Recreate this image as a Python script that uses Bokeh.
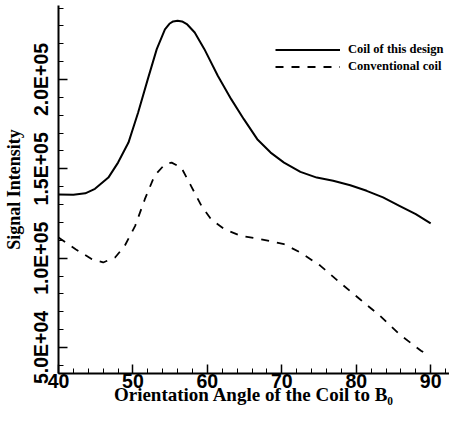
import math
from bokeh.plotting import figure
from bokeh.models import FixedTicker, Range1d, Legend, LegendItem
from bokeh.embed import file_html
from bokeh.resources import INLINE

# ---- data ----
angle_design = [40.0, 42.0, 43.6, 44.9, 46.7, 48.0, 49.4, 50.7, 52.0, 53.2, 54.3, 54.9,
                55.4, 56.0, 56.6, 57.3, 58.3, 59.6, 61.4, 63.2, 64.9, 66.7, 68.5, 70.3,
                72.5, 74.7, 76.9, 79.2, 81.4, 83.6, 85.8, 88.0, 90.0]
signal_design = [135600, 135500, 136300, 138800, 145100, 153500, 164700, 181500, 200200,
                 217000, 228100, 231200, 232500, 232900, 232500, 230800, 226300, 217000,
                 202100, 189000, 177800, 166600, 159100, 153500, 148300, 145100, 143300,
                 140800, 137700, 134000, 129300, 124600, 119500]

angle_conv = [40.0, 42.3, 44.5, 46.0, 47.6, 48.9, 50.3, 51.6, 52.9, 54.3, 55.2, 56.5,
              57.8, 59.2, 60.5, 62.3, 64.5, 67.2, 70.3, 72.5, 75.2, 77.8, 80.5, 83.2,
              85.8, 88.7, 89.6]
signal_conv = [111600, 105000, 99400, 97600, 100400, 106900, 118100, 133000, 146100,
               152600, 153500, 150700, 140500, 129300, 121800, 116200, 112500, 110600,
               107800, 103200, 95700, 86400, 77000, 67700, 57400, 48200, 45800]

y_ticks = [50000, 100000, 150000, 200000]
y_tick_labels = ["5.0E+04", "1.0E+05", "1.5E+05", "2.0E+05"]
x_ticks = [40, 50, 60, 70, 80, 90]

series_names = ["Coil of this design", "Conventional coil"]
x_title = "Orientation Angle of the Coil to B₀"
y_title = "Signal Intensity"

p = figure(width=449, height=409, output_backend="svg", toolbar_location=None,
           x_range=Range1d(40, 92.53), y_range=Range1d(35450, 241420),
           min_border_left=55, min_border_right=0, min_border_top=5, min_border_bottom=36)

p.outline_line_color = None
p.xgrid.visible = False
p.ygrid.visible = False
p.background_fill_color = "white"
p.border_fill_color = "white"

r1 = p.line(angle_design, signal_design, line_color="black", line_width=2,
            line_join="round")
r2 = p.line(angle_conv, signal_conv, line_color="black", line_width=1.8, line_dash="8 8",
            line_join="round")

# x axis
xa = p.xaxis[0]
xa.ticker = FixedTicker(ticks=x_ticks, minor_ticks=list(range(40, 93, 2)))
xa.axis_line_width = 2
xa.axis_line_color = "black"
xa.major_tick_in = 9
xa.major_tick_out = 0
xa.minor_tick_in = 5
xa.minor_tick_out = 0
xa.major_tick_line_width = 1.5
xa.major_label_text_font = "Liberation Sans"
xa.major_label_text_font_style = "bold"
xa.major_label_text_font_size = "19.5px"
xa.major_label_text_color = "black"
xa.major_label_standoff = 0
xa.axis_label = x_title
xa.axis_label_text_font = "Liberation Serif"
xa.axis_label_text_font_style = "bold"
xa.axis_label_text_font_size = "19px"
xa.axis_label_text_color = "black"
xa.axis_label_standoff = -7

# y axis
ya = p.yaxis[0]
ya.ticker = FixedTicker(ticks=y_ticks, minor_ticks=list(range(40000, 241000, 10000)))
ya.major_label_overrides = {t: l for t, l in zip(y_ticks, y_tick_labels)}
ya.axis_line_width = 2
ya.axis_line_color = "black"
ya.major_tick_in = 9
ya.major_tick_out = 0
ya.minor_tick_in = 5
ya.minor_tick_out = 0
ya.major_tick_line_width = 1.5
ya.major_label_orientation = "parallel"
ya.major_label_text_font = "Liberation Sans"
ya.major_label_text_font_style = "bold"
ya.major_label_text_font_size = "19.5px"
ya.major_label_text_color = "black"
ya.major_label_standoff = 6
ya.axis_label = y_title
ya.axis_label_text_font = "Liberation Serif"
ya.axis_label_text_font_style = "bold"
ya.axis_label_text_font_size = "18px"
ya.axis_label_text_color = "black"
ya.axis_label_standoff = 4

legend = Legend(items=[LegendItem(label=series_names[0], renderers=[r1]),
                       LegendItem(label=series_names[1], renderers=[r2])],
                location=(217, 299), orientation="vertical")
legend.padding = 0
legend.margin = 0
legend.spacing = 2
legend.glyph_width = 65
legend.glyph_height = 15
legend.label_height = 15
legend.label_standoff = 8
legend.label_text_font = "Liberation Serif"
legend.label_text_font_style = "bold"
legend.label_text_font_size = "12.5px"
legend.label_text_color = "black"
legend.border_line_alpha = 0
legend.background_fill_alpha = 0
p.add_layout(legend)

open("out.html", "w").write(file_html(p, INLINE))
